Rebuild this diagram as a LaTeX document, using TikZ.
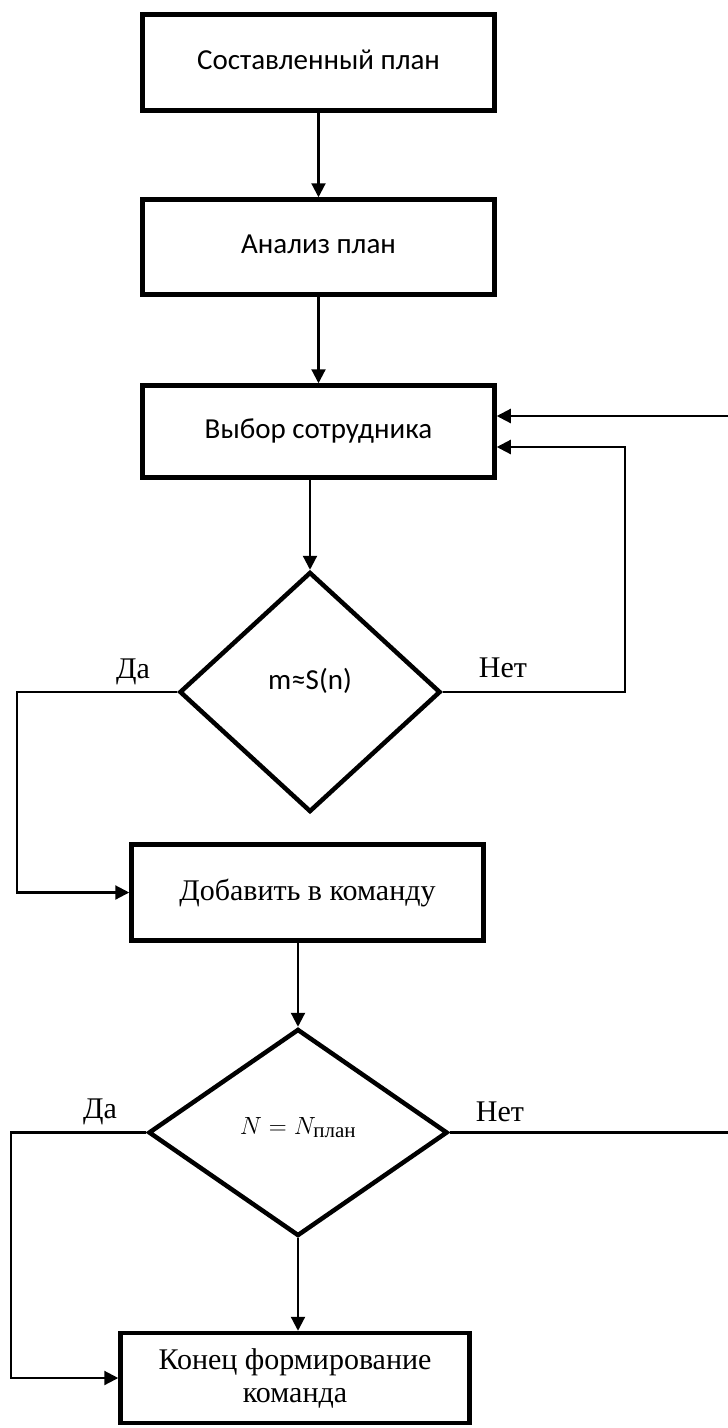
\documentclass[tikz,border=0pt]{standalone}
\usepackage{fontspec}
\usepackage{amsmath}
\setmainfont{Liberation Serif}
\newfontfamily\calibri{Carlito}
\usetikzlibrary{arrows.meta,calc,shapes.geometric}

\tikzset{
	blok/.style={draw, line width=4.5pt, rectangle, inner sep=0pt, minimum width=352pt, minimum height=96pt, align=center},
	romb/.style={draw, line width=4.5pt, diamond, inner sep=0pt},
	sans/.style={font=\calibri\fontsize{29}{34}\selectfont, text depth=0.5em},
	serif/.style={font=\fontsize{30}{33}\selectfont},
	arr/.style={line width=2.2pt, -{Triangle[length=14pt,width=14pt]}},
}

\begin{document}
\begin{tikzpicture}[x=1pt,y=-1pt]
			%%%%% START %%%%%
			\useasboundingbox (0,0) rectangle (728,1428);
			
			\node[blok, sans] (plan) at (318.5, 62.5) {Составленный план};
			\node[blok, sans, minimum height=95pt] (analiz) at (318.5, 247) {Анализ план};
			\node[blok, sans, minimum height=92pt] (vybor) at (318.5, 431.5) {Выбор сотрудника};
			
			\node[romb, sans, text depth=, minimum width=261pt, minimum height=240pt] (usl1) at (310, 692) {\raisebox{26pt}{m≈S(n)}};
			\node[blok, serif] (dobav) at (307.5, 892.5) {Добавить в команду};
			
			\node[romb, serif, minimum width=299pt, minimum height=207pt] (usl2) at (298, 1132.5) {\raisebox{14pt}{$N = N_{\text{план}}$}};
			\node[blok, serif, minimum width=349pt, minimum height=90pt] (konec) at (295, 1378) {Конец формирование\\команда};
			
			\node[serif] (da1) at (133, 672) {Да};
			\node[serif] (net1) at (503, 668) {Нет};
			\node[serif] (da2) at (100, 1112) {Да};
			\node[serif] (net2) at (500, 1112) {Нет};
			
			\coordinate (vhod1) at ($(vybor.east)+(0,-15.5)$);
			\coordinate (vhod2) at ($(vybor.east)+(0,15.5)$);
			
			\draw[arr] (plan) -- (analiz);
			\draw[arr] (analiz) -- (vybor);
			\draw[arr] (vybor.south -| usl1.north) -- (usl1.north);
			
			\draw[arr] (usl1.east) -- ++(182,0) |- (vhod2);
			\draw[arr] (usl1.west) -- ++(-160,0) |- (dobav.west);
			
			\draw[arr] (dobav.south -| usl2.north) -- (usl2.north);
			\draw[arr] (usl2.east) -- ++(300,0) |- (vhod1);
			\draw[arr] (usl2.west) -- ++(-135,0) |- (konec.west);
			\draw[arr] (usl2.south) -- (usl2.south |- konec.north);
			
			%%%%% END %%%%%
\end{tikzpicture}
\end{document}
